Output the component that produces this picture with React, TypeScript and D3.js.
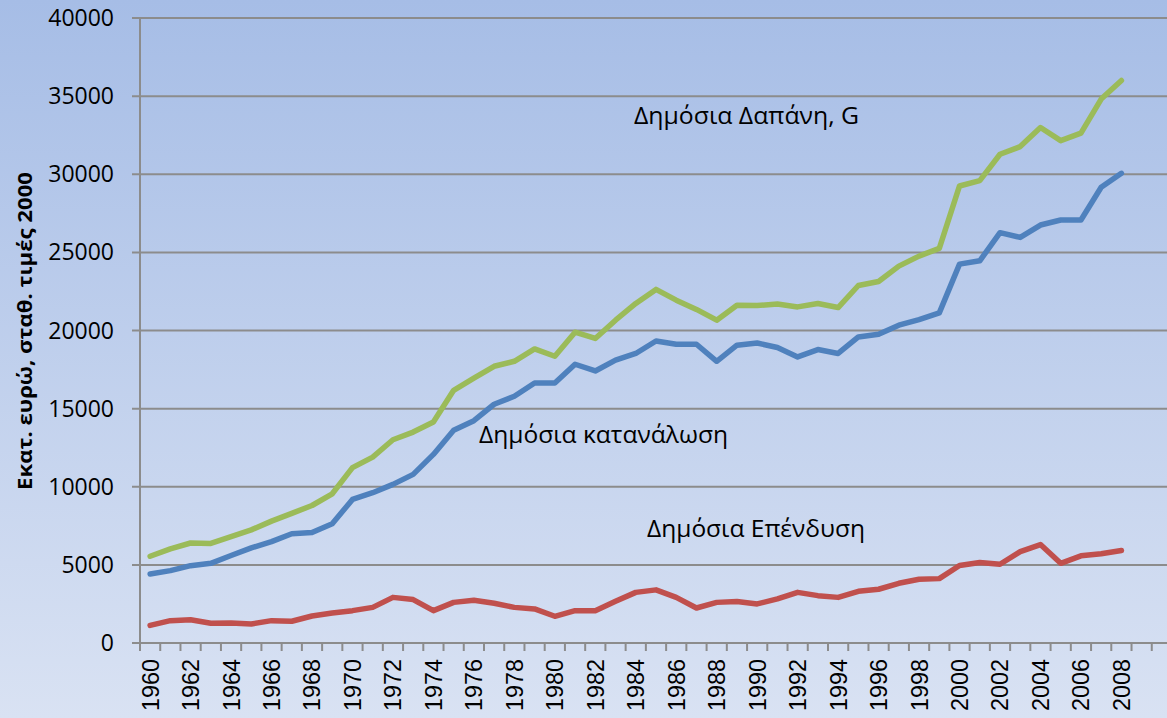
import React from 'react';
import * as d3 from 'd3';

// data (millions of euro, constant 2000 prices)
const years = d3.range(1960, 2009);
const spending = [
  5550, 6020, 6400, 6370, 6810, 7240, 7800, 8300, 8800, 9550,
  11220, 11900, 13010, 13500, 14140, 16170, 16950, 17710, 18030, 18820,
  18350, 19890, 19490, 20660, 21730, 22630, 21940, 21350, 20660, 21620,
  21600, 21690, 21510, 21730, 21470, 22880, 23140, 24120, 24760, 25260,
  29250, 29590, 31280, 31770, 32990, 32150, 32630, 34810, 36000,
];
const consumption = [
  4420, 4630, 4950, 5100, 5600, 6090, 6490, 6990, 7070, 7630,
  9190, 9620, 10150, 10790, 12070, 13610, 14230, 15280, 15790, 16640,
  16640, 17840, 17410, 18100, 18530, 19330, 19120, 19120, 18030, 19060,
  19200, 18910, 18310, 18780, 18530, 19590, 19760, 20340, 20700, 21130,
  24250, 24460, 26260, 25960, 26750, 27070, 27070, 29170, 30060,
];
const investment = [
  1130, 1430, 1490, 1260, 1280, 1220, 1430, 1390, 1730, 1920,
  2070, 2280, 2920, 2780, 2070, 2600, 2730, 2540, 2280, 2180,
  1710, 2070, 2070, 2670, 3240, 3400, 2920, 2240, 2600, 2650,
  2500, 2820, 3240, 3030, 2920, 3310, 3440, 3820, 4080, 4120,
  4960, 5150, 5040, 5850, 6300, 5100, 5580, 5710, 5920,
];
const axisYears = d3.range(1960, 2011);
const yTicks = [0, 5000, 10000, 15000, 20000, 25000, 30000, 35000, 40000];

const series = [
  { name: 'Δημόσια Δαπάνη, G', values: spending, color: '#9BBB59', lx: 634, ly: 124, len: 225 },
  { name: 'Δημόσια κατανάλωση', values: consumption, color: '#4F81BD', lx: 479, ly: 443, len: 249 },
  { name: 'Δημόσια Επένδυση', values: investment, color: '#C0504D', lx: 647, ly: 537, len: 218 },
];

const W = 1167;
const H = 718;

export default function App() {
  const x = d3.scaleBand<number>().domain(axisYears).range([140, 1172]);
  const y = d3.scaleLinear().domain([0, 40000]).range([643, 18]);
  const cx = (yr: number) => (x(yr) as number) + x.bandwidth() / 2;

  const line = d3
    .line<number>()
    .x((_, i) => cx(years[i]))
    .y((d) => y(d));

  return (
    <svg width={W} height={H} style={{ position: 'absolute', left: 0, top: 0 }}>
      <defs>
        <linearGradient id="bg" x1="0" y1="0" x2="0" y2="1">
          <stop offset="0%" stopColor="#A6BDE6" />
          <stop offset="100%" stopColor="#D9E2F3" />
        </linearGradient>
      </defs>
      <rect width={W} height={H} fill="url(#bg)" />

      {/* grid + y ticks */}
      <g>
        {yTicks.map((t) => (
          <g key={t}>
            <line x1={132} x2={W} y1={y(t)} y2={y(t)} stroke="#8C8C8C" strokeWidth={2} />
            <text
              x={114}
              y={y(t)}
              dy="0.35em"
              textAnchor="end"
              fontFamily="'Open Sans', sans-serif"
              fontSize={23}
              fill="#000"
            >
              {t}
            </text>
          </g>
        ))}
      </g>

      {/* axes */}
      <line x1={140} x2={140} y1={y(40000)} y2={651} stroke="#8C8C8C" strokeWidth={2} />
      <line x1={132} x2={W} y1={y(0)} y2={y(0)} stroke="#8C8C8C" strokeWidth={2} />
      {axisYears.map((yr) => (
        <line
          key={yr}
          x1={x(yr)}
          x2={x(yr)}
          y1={y(0)}
          y2={651}
          stroke="#8C8C8C"
          strokeWidth={2}
        />
      ))}
      {years
        .filter((yr) => yr % 2 === 0)
        .map((yr) => (
          <text
            key={yr}
            transform={`translate(${cx(yr)}, 659) rotate(-90)`}
            dy="0.36em"
            textAnchor="end"
            fontFamily="'Liberation Sans', Arial, sans-serif"
            fontSize={23.5}
            textLength={52}
            lengthAdjust="spacingAndGlyphs"
            fill="#000"
          >
            {yr}
          </text>
        ))}

      {/* y axis title */}
      <text
        transform="translate(32, 331) rotate(-90)"
        textAnchor="middle"
        fontFamily="'Open Sans', sans-serif"
        fontWeight="bold"
        fontSize={20}
        textLength={318}
        lengthAdjust="spacingAndGlyphs"
        fill="#000"
      >
        Εκατ. ευρώ, σταθ. τιμές 2000
      </text>

      {/* lines */}
      {series.map((s) => (
        <path
          key={s.name}
          d={line(s.values) || ''}
          fill="none"
          stroke={s.color}
          strokeWidth={5.5}
          strokeLinejoin="round"
          strokeLinecap="round"
        />
      ))}

      {/* labels */}
      {series.map((s) => (
        <text
          key={s.name}
          x={s.lx}
          y={s.ly}
          fontFamily="'Open Sans', sans-serif"
          fontSize={24}
          textLength={s.len}
          lengthAdjust="spacingAndGlyphs"
          fill="#000"
        >
          {s.name}
        </text>
      ))}
    </svg>
  );
}
